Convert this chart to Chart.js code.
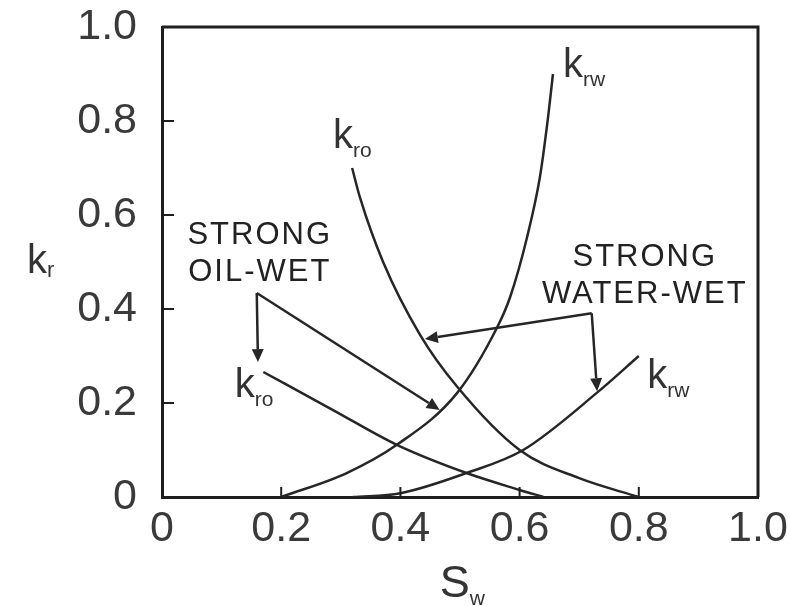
<!DOCTYPE html>
<html>
<head>
<meta charset="utf-8">
<script src="https://cdn.jsdelivr.net/npm/chart.js@4"></script>
<style>
  html, body { margin: 0; padding: 0; background: #fff; }
  #wrap { width: 791px; height: 606px; }
</style>
</head>
<body>
<div id="wrap"><canvas id="krChart"></canvas></div>
<script>
// Tick labels
const xTickLabels = ['0', '0.2', '0.4', '0.6', '0.8', '1.0'];
const yTickLabels = ['0', '0.2', '0.4', '0.6', '0.8', '1.0'];

// Strong oil-wet curves
const swKrwOil = [0.20, 0.31, 0.394, 0.495, 0.562, 0.584, 0.612, 0.634, 0.646, 0.656];
const krwOil   = [0.00, 0.051, 0.111, 0.221, 0.360, 0.425, 0.550, 0.680, 0.790, 0.900];
const swKroOil = [0.17, 0.287, 0.394, 0.511, 0.60, 0.64];
const kroOil   = [0.266, 0.185, 0.111, 0.051, 0.015, 0.00];

// Strong water-wet curves
const swKroWater = [0.319, 0.332, 0.371, 0.433, 0.495, 0.60, 0.70, 0.80];
const kroWater   = [0.70, 0.638, 0.50, 0.345, 0.235, 0.10, 0.04, 0.00];
const swKrwWater = [0.32, 0.40, 0.511, 0.606, 0.73, 0.80];
const krwWater   = [0.00, 0.008, 0.051, 0.10, 0.222, 0.30];

const FONT = '"Liberation Sans", Arial, sans-serif';
const INK = '#262626';

function toPoints(xs, ys) {
    return xs.map((x, i) => ({ x: x, y: ys[i] }));
}

function curve(label, xs, ys) {
    return {
        label: label,
        data: toPoints(xs, ys),
        showLine: true,
        borderColor: INK,
        borderWidth: 2.5,
        pointRadius: 0,
        cubicInterpolationMode: 'monotone',
        fill: false
    };
}

// Annotations (drawn in data coordinates)
const curveLabels = [
    { base: 'k', sub: 'rw', x: 0.673, y: 0.894 },
    { base: 'k', sub: 'ro', x: 0.287, y: 0.743 },
    { base: 'k', sub: 'ro', x: 0.122, y: 0.213 },
    { base: 'k', sub: 'rw', x: 0.814, y: 0.232 }
];
const notes = [
    { lines: ['STRONG', 'OIL-WET'], x: 0.164, y: 0.557 },
    { lines: ['STRONG', 'WATER-WET'], x: 0.81, y: 0.509 }
];
const arrows = [
    { from: [0.159, 0.434], to: [0.161, 0.287] },
    { from: [0.159, 0.434], to: [0.466, 0.185] },
    { from: [0.721, 0.391], to: [0.441, 0.336] },
    { from: [0.721, 0.391], to: [0.730, 0.225] }
];

const annotatePlugin = {
    id: 'annotate',
    afterDraw(chart) {
        const ctx = chart.ctx;
        const xs = chart.scales.x;
        const ys = chart.scales.y;
        const area = chart.chartArea;
        const px = v => xs.getPixelForValue(v);
        const py = v => ys.getPixelForValue(v);
        ctx.save();

        // top and right frame
        ctx.strokeStyle = '#1e1e1e';
        ctx.lineWidth = 3;
        ctx.beginPath();
        ctx.moveTo(area.left, area.top);
        ctx.lineTo(area.right, area.top);
        ctx.lineTo(area.right, area.bottom);
        ctx.stroke();

        // inward tick marks
        ctx.lineWidth = 2;
        xs.ticks.forEach(t => {
            if (t.value <= 0 || t.value >= 1) return;
            ctx.beginPath();
            ctx.moveTo(px(t.value), area.bottom);
            ctx.lineTo(px(t.value), area.bottom - 10);
            ctx.stroke();
        });
        ys.ticks.forEach(t => {
            if (t.value <= 0 || t.value >= 1) return;
            ctx.beginPath();
            ctx.moveTo(area.left, py(t.value));
            ctx.lineTo(area.left + 12, py(t.value));
            ctx.stroke();
        });

        // arrows
        ctx.strokeStyle = INK;
        ctx.fillStyle = INK;
        ctx.lineWidth = 2.5;
        arrows.forEach(a => {
            const x0 = px(a.from[0]), y0 = py(a.from[1]);
            const x1 = px(a.to[0]), y1 = py(a.to[1]);
            const ang = Math.atan2(y1 - y0, x1 - x0);
            const len = 13, half = 6;
            const bx = x1 - len * Math.cos(ang), by = y1 - len * Math.sin(ang);
            ctx.beginPath();
            ctx.moveTo(x0, y0);
            ctx.lineTo(bx, by);
            ctx.stroke();
            ctx.beginPath();
            ctx.moveTo(x1, y1);
            ctx.lineTo(bx + half * Math.sin(ang), by - half * Math.cos(ang));
            ctx.lineTo(bx - half * Math.sin(ang), by + half * Math.cos(ang));
            ctx.closePath();
            ctx.fill();
        });

        // curve labels
        ctx.fillStyle = '#333';
        ctx.textBaseline = 'alphabetic';
        ctx.textAlign = 'left';
        const subLabel = (base, sub, x, y, big, small, drop) => {
            ctx.font = big + 'px ' + FONT;
            ctx.fillText(base, x, y);
            const w = ctx.measureText(base).width;
            ctx.font = small + 'px ' + FONT;
            ctx.fillText(sub, x + w, y + drop);
        };
        curveLabels.forEach(l => subLabel(l.base, l.sub, px(l.x), py(l.y), 40, 21, 9));

        // axis titles
        subLabel('k', 'r', area.left - 135, py(0.477), 40, 22, 4);
        subLabel('S', 'w', px(0.466), area.bottom + 100, 45, 21, 8);

        // wettability notes
        ctx.font = '31px ' + FONT;
        ctx.textAlign = 'center';
        ctx.textBaseline = 'middle';
        ctx.letterSpacing = '2px';
        ctx.fillStyle = '#222';
        notes.forEach(n => {
            n.lines.forEach((line, i) => {
                ctx.fillText(line, px(n.x), py(n.y) + i * 37);
            });
        });
        ctx.restore();
    }
};

// keep the plot box where the reference has it: no extra room for overhanging labels
function noOverhang(s) {
    s.paddingTop = 0;
    s.paddingBottom = 0;
    s.paddingLeft = 0;
    s.paddingRight = 0;
}

const ctx = document.getElementById('krChart').getContext('2d');
const krChart = new Chart(ctx, {
    type: 'scatter',
    data: {
        datasets: [
            curve('krw strong oil-wet', swKrwOil, krwOil),
            curve('kro strong oil-wet', swKroOil, kroOil),
            curve('kro strong water-wet', swKroWater, kroWater),
            curve('krw strong water-wet', swKrwWater, krwWater)
        ]
    },
    options: {
        responsive: true,
        maintainAspectRatio: false,
        animation: false,
        layout: { padding: { top: 27, right: 33, left: 0, bottom: 0 } },
        plugins: {
            legend: { display: false },
            tooltip: { enabled: false }
        },
        scales: {
            x: {
                type: 'linear',
                min: 0,
                max: 1,
                grid: { display: false, drawTicks: false },
                border: { display: true, color: '#1e1e1e', width: 3 },
                ticks: {
                    stepSize: 0.2,
                    padding: 6,
                    color: '#3a3a3a',
                    font: { family: FONT, size: 43 },
                    callback: (v, i) => xTickLabels[i]
                },
                afterFit: s => { s.height = 109; noOverhang(s); }
            },
            y: {
                type: 'linear',
                min: 0,
                max: 1,
                grid: { display: false, drawTicks: false },
                border: { display: true, color: '#1e1e1e', width: 3 },
                ticks: {
                    stepSize: 0.2,
                    padding: 25,
                    color: '#3a3a3a',
                    font: { family: FONT, size: 43 },
                    callback: (v, i) => yTickLabels[i]
                },
                afterFit: s => { s.width = 162; noOverhang(s); }
            }
        }
    },
    plugins: [annotatePlugin]
});
</script>
</body>
</html>
